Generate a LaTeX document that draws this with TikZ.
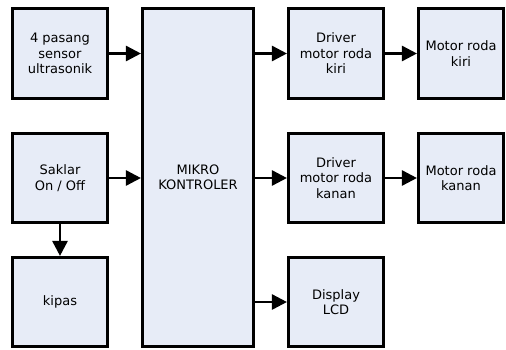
\documentclass[tikz,border=0pt]{standalone}
\usepackage{fontspec}
\setmainfont{DejaVu Sans}
\usetikzlibrary{arrows.meta}
\definecolor{boxfill}{RGB}{231,236,247}
\begin{document}
\begin{tikzpicture}[x=1pt,y=-1pt,
  blk/.style={draw=black,line width=2.6pt,fill=boxfill,inner sep=0pt,align=center,
    font=\fontsize{13}{15.5}\selectfont},
  conn/.style={line width=2.6pt,-{Triangle[length=15pt,width=15pt]}}]
\useasboundingbox (0,0) rectangle (506,349);
% boxes: (center), width x height of path
\node[blk,minimum width=95.5pt,minimum height=90.5pt] (sensor) at (60,53.5) {4 pasang\\sensor\\ultrasonik};
\node[blk,minimum width=95.5pt,minimum height=89.5pt] (saklar) at (60,178) {Saklar\\On / Off};
\node[blk,minimum width=95.5pt,minimum height=89.5pt] (kipas) at (60,302) {kipas};
\node[blk,minimum width=111.5pt,minimum height=338.5pt] (mikro) at (198,177.5) {MIKRO\\KONTROLER};
\node[blk,minimum width=95.5pt,minimum height=90.5pt] (drvkiri) at (336,53.5) {Driver\\motor roda\\kiri};
\node[blk,minimum width=95.5pt,minimum height=89.5pt] (drvkanan) at (336,178) {Driver\\motor roda\\kanan};
\node[blk,minimum width=95.5pt,minimum height=89.5pt] (lcd) at (336,302) {Display\\LCD};
\node[blk,minimum width=85.5pt,minimum height=90.5pt] (motkiri) at (461,53.5) {Motor roda\\kiri};
\node[blk,minimum width=85.5pt,minimum height=89.5pt] (motkanan) at (461,178) {Motor roda\\kanan};
% connectors
\draw[conn] (sensor.east) -- (sensor.east -| mikro.west);
\draw[conn] (saklar.east) -- (saklar.east -| mikro.west);
\draw[conn] (saklar.south) -- (kipas.north);
\draw[conn] (mikro.east |- drvkiri.west) -- (drvkiri.west);
\draw[conn] (mikro.east |- drvkanan.west) -- (drvkanan.west);
\draw[conn] (mikro.east |- lcd.west) -- (lcd.west);
\draw[conn] (drvkiri.east) -- (motkiri.west);
\draw[conn] (drvkanan.east) -- (motkanan.west);
\end{tikzpicture}
\end{document}
